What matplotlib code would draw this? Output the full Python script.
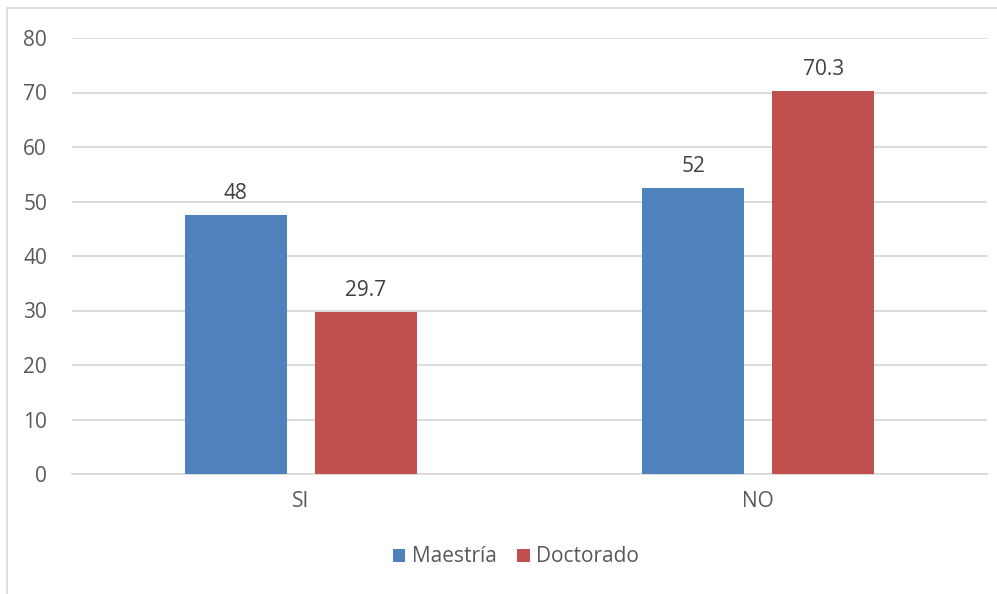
import numpy as np
import matplotlib.pyplot as plt
from matplotlib.patches import Rectangle

categories = ['SI', 'NO']
maestria = [47.5, 52.5]
doctorado = [29.7, 70.3]
maestria_labels = ['48', '52']
doctorado_labels = ['29.7', '70.3']

plt.rcParams['font.family'] = ['Open Sans', 'DejaVu Sans']
text_color = '#595959'
blue = '#4F81BD'
red = '#C0504D'
fs = 15

fig = plt.figure(figsize=(9.97, 5.94), dpi=100)
W, H = 997, 594
ax = fig.add_axes([72 / W, 1 - 474 / H, (987 - 72) / W, (474 - 38) / H])

# outer chart frame (cut off at right and bottom like the source)
fig.patches.append(Rectangle((7 / W, -0.05), 1.2, 1 - 8 / H + 0.05, transform=fig.transFigure,
                             fill=False, edgecolor='#D9D9D9', linewidth=1.2))

x = np.arange(len(categories))
width = 0.223
gap = 0.061
b1 = ax.bar(x - (width + gap) / 2, maestria, width, color=blue, label='Maestría', zorder=3)
b2 = ax.bar(x + (width + gap) / 2, doctorado, width, color=red, label='Doctorado', zorder=3)

for bars, labels in [(b1, maestria_labels), (b2, doctorado_labels)]:
    for bar, lab in zip(bars, labels):
        ax.annotate(lab, (bar.get_x() + bar.get_width() / 2, bar.get_height()),
                    xytext=(0, 8), textcoords='offset points', ha='center', va='bottom',
                    fontsize=fs, color='#404040')

ax.set_xlim(-0.5, 1.5)
ax.set_ylim(0, 80)
ax.set_yticks(range(0, 81, 10))
ax.set_xticks(x)
ax.set_xticklabels(categories)
ax.yaxis.grid(True, color='#D9D9D9', linewidth=1.3, zorder=0)
ax.set_axisbelow(True)
for s in ['top', 'right', 'left']:
    ax.spines[s].set_visible(False)
ax.spines['bottom'].set_color('#D9D9D9')
ax.spines['bottom'].set_linewidth(1.3)
ax.tick_params(axis='both', length=0, labelsize=fs, colors=text_color)
ax.tick_params(axis='y', pad=18)
ax.tick_params(axis='x', pad=12)

fig.legend(handles=[b1, b2], loc='center', bbox_to_anchor=(516 / W, 1 - 557 / H), ncol=2,
           frameon=False, fontsize=fs, labelcolor=text_color, handlelength=0.6,
           handleheight=0.6, handletextpad=0.3, columnspacing=1.0)

fig.savefig('out.png', dpi=100)
